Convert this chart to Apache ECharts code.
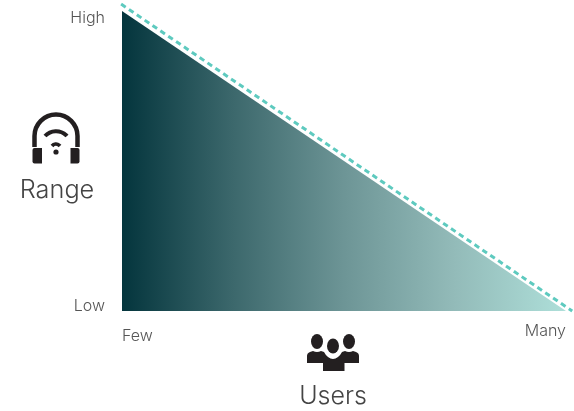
<!DOCTYPE html>
<html><head><meta charset="utf-8">
<style>html,body{margin:0;padding:0;background:#fff}#c{width:574px;height:411px}</style>
<script src="https://cdn.jsdelivr.net/npm/echarts@6/dist/echarts.min.js"></script>
</head><body><div id="c"></div>
<script>
const usersX = [0, 100];
const rangeValues = [100, 0];
const limitX = [-0.2, 101.4];
const limitValues = [102.3, 0];
const yTicks = ['Low', 'High'];
const xTicks = ['Few', 'Many'];
const yTitle = 'Range';
const xTitle = 'Users';

const FONT = 'Inter, "Open Sans", sans-serif';
const chart = echarts.init(document.getElementById('c'), null, {renderer: 'canvas'});
const txt = (x, y, s, size, align, color) => ({
  type: 'text', x, y,
  style: {text: s, fontFamily: FONT, fontWeight: 300, fontSize: size, fill: color, textAlign: align, textVerticalAlign: 'middle'}
});
const ink = '#231f20';
const strokePath = (d, w) => ({type: 'path', shape: {pathData: d}, style: {fill: 'none', stroke: ink, lineWidth: w}});
const fillPath = d => ({type: 'path', shape: {pathData: d}, style: {fill: ink}});
const oval = (cx, cy, rx, ry) => fillPath(`M${cx - rx} ${cy} A${rx} ${ry} 0 1 0 ${cx + rx} ${cy} A${rx} ${ry} 0 1 0 ${cx - rx} ${cy} Z`);
const iconParts = [
  // headset
  strokePath('M34.5 147 V136 A21.5 21.5 0 0 1 77.5 136 V147', 4.5),
  fillPath('M32.5 150 Q32.5 148 34.5 148 H42 V163.5 H34.5 Q32.5 163.5 32.5 161.5 Z'),
  fillPath('M79.5 150 Q79.5 148 77.5 148 H70.5 V163.5 H77.5 Q79.5 163.5 79.5 161.5 Z'),
  strokePath('M45 136 A15 15 0 0 1 67 136', 4),
  strokePath('M52 146 A5.2 5.2 0 0 1 60 146', 3.6),
  oval(56, 152, 2.6, 2.6),
  // users
  oval(317, 341.5, 6, 7.5),
  oval(349, 341.5, 6, 7.5),
  oval(333, 346, 6, 7.5),
  fillPath('M307 363 V356 Q307 353 310 352 L313 351 Q317 353 321 351 L324 352 Q325.5 355 328 357 Q333 361 338 357 Q340.5 355 342 352 L345 351 Q349 353 353 351 L356 352 Q359 353 359 356 V363 H344.5 V371 H323 V363 Z')
];
chart.setOption({
  animation: false,
  grid: {left: 122, top: 4, right: 2, bottom: 100},
  xAxis: {type: 'value', min: 0, max: 101.35, show: false},
  yAxis: {type: 'value', min: 0, max: 102.33, show: false},
  series: [
    {
      type: 'line', symbol: 'none', silent: true,
      data: usersX.map((x, i) => [x, rangeValues[i]]),
      lineStyle: {width: 0},
      areaStyle: {opacity: 1, color: {type: 'linear', x: 0, y: 0, x2: 1, y2: 0, colorStops: [
        {offset: 0, color: '#04353d'}, {offset: 0.25, color: '#3c686c'}, {offset: 0.5, color: '#6d9596'},
        {offset: 0.75, color: '#93bbb9'}, {offset: 1, color: '#aedfd9'}]}}
    },
    {
      type: 'line', symbol: 'none', silent: true, clip: false,
      data: limitX.map((x, i) => [x, limitValues[i]]),
      lineStyle: {color: '#5ecabf', width: 3, type: [5.5, 4]}
    },
    {
      type: 'custom', coordinateSystem: 'none', silent: true, data: [0],
      renderItem: () => ({type: 'group', children: iconParts})
    }
  ],
  graphic: [
    txt(105, 18, yTicks[1], 16, 'right', '#555'),
    txt(105, 306, yTicks[0], 16, 'right', '#555'),
    txt(122, 336, xTicks[0], 16, 'left', '#555'),
    txt(566, 331, xTicks[1], 16, 'right', '#555'),
    txt(57, 190, yTitle, 25.3, 'center', '#444'),
    txt(333, 396, xTitle, 25, 'center', '#444')
  ]
});
</script></body></html>
